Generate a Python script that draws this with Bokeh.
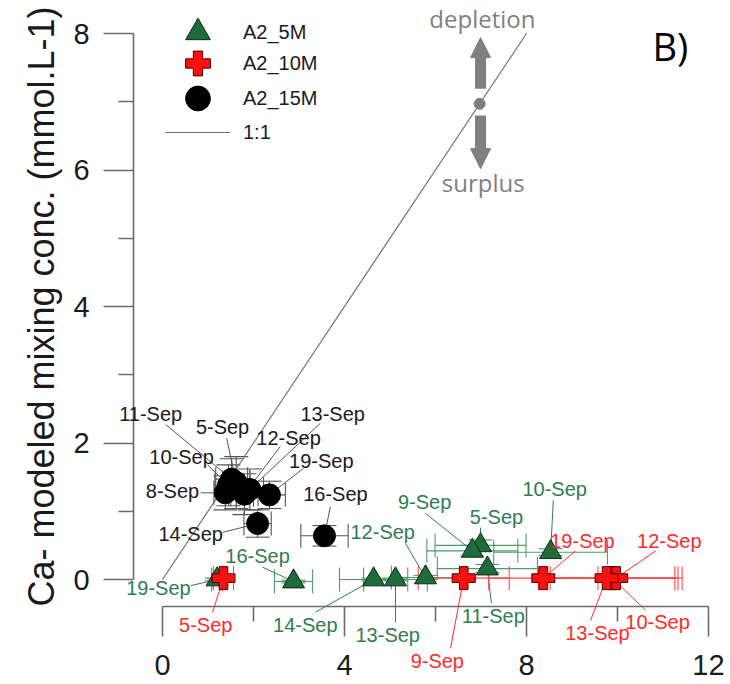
from bokeh.plotting import figure
from bokeh.models import (Range1d, FixedTicker, LabelSet, ColumnDataSource, Whisker,
                          TeeHead, Arrow, NormalHead, Label, Legend, LegendItem)
from bokeh.embed import file_html
from bokeh.resources import INLINE
from bokeh.core.properties import value

# ---------------- data ----------------
# A2_5M (green triangles)
dates_5m = ["5-Sep", "9-Sep", "10-Sep", "11-Sep", "12-Sep", "13-Sep", "14-Sep", "16-Sep", "19-Sep"]
x_5m = [6.99, 6.81, 8.53, 7.14, 5.78, 5.12, 4.64, 2.88, 1.20]
y_5m = [0.50, 0.42, 0.40, 0.16, 0.03, 0.00, 0.00, -0.03, 0.00]
xerr_5m = [1.0, 1.0, 1.25, 1.1, 0.75, 0.7, 0.75, 0.42, 0.12]
yerr_5m = [0.08, 0.08, 0.05, 0.06, 0.03, 0.02, 0.02, 0.02, 0.02]
lab_x_5m = [7.34, 5.76, 8.62, 7.27, 4.84, 4.95, 3.14, 2.09, -0.09]
lab_y_5m = [0.92, 1.14, 1.33, -0.54, 0.70, -0.82, -0.67, 0.35, -0.12]
lead_x_5m = [6.99, 5.78, 8.59, 7.23, 5.34, 5.12, 3.36, 2.20, 0.62]
lead_y_5m = [0.76, 0.97, 1.16, -0.35, 0.53, -0.63, -0.48, 0.18, -0.09]

# A2_10M (red plus)
dates_10m = ["5-Sep", "9-Sep", "10-Sep", "12-Sep", "13-Sep", "19-Sep"]
x_10m = [1.34, 6.62, 9.88, 9.97, 9.76, 8.37]
y_10m = [0.02, 0.02, 0.02, 0.02, 0.02, 0.02]
xerr_10m = [0.22, 1.0, 1.45, 1.45, 1.5, 1.2]
yerr_10m = [0.05, 0.05, 0.05, 0.05, 0.05, 0.05]
lab_x_10m = [0.95, 6.04, 10.88, 11.14, 9.56, 9.23]
lab_y_10m = [-0.66, -1.19, -0.63, 0.57, -0.78, 0.57]
lead_x_10m = [1.10, 6.33, 10.62, 10.84, 9.41, 9.08]
lead_y_10m = [-0.48, -1.01, -0.45, 0.42, -0.60, 0.42]

# A2_15M (black circles)
dates_15m = ["5-Sep", "8-Sep", "10-Sep", "11-Sep", "12-Sep", "13-Sep", "14-Sep", "16-Sep", "19-Sep"]
x_15m = [1.62, 1.38, 1.45, 1.52, 1.80, 1.92, 2.09, 3.56, 2.35]
y_15m = [1.42, 1.27, 1.38, 1.47, 1.25, 1.32, 0.82, 0.64, 1.24]
xerr_15m = [0.3, 0.25, 0.3, 0.35, 0.3, 0.3, 0.3, 0.52, 0.35]
yerr_15m = [0.38, 0.25, 0.3, 0.3, 0.3, 0.3, 0.2, 0.15, 0.2]
lab_x_15m = [1.32, 0.22, 0.42, -0.26, 2.77, 3.74, 0.62, 3.80, 3.49]
lab_y_15m = [2.23, 1.29, 1.79, 2.43, 2.08, 2.43, 0.66, 1.25, 1.73]
lead_x_15m = [1.41, 0.84, 0.99, 0.07, 2.59, 3.47, 1.32, 3.69, 3.10]
lead_y_15m = [2.07, 1.27, 1.68, 2.27, 1.95, 2.29, 0.69, 1.07, 1.63]

# 1:1 line
one_to_one = [0, 8]

# axis ticks
x_ticks = [0, 4, 8, 12]
x_minor = [2, 6, 10]
y_ticks = [0, 2, 4, 6, 8]
y_minor = [1, 3, 5, 7]

# offset axis positions (data coords, Sigmaplot style detached axes)
yaxis_at_x = -0.637
xaxis_at_y = -0.396

# depletion / surplus sketch (data coords)
sketch_x = 6.99
sketch_dot = 6.97
up_from, up_to = 7.19, 7.94
down_from, down_to = 6.80, 6.02

GREEN_FILL = "#1f6b3a"
GREEN_TXT = "#2f7d4f"
GREEN_BAR = "#4f9a6a"
RED_FILL = "#ff1010"
RED_TXT = "#ff2a2a"
RED_BAR = "#ff4a4a"
GRAY = "#7f7f7f"
AXIS = "#6a6a6a"
FONT = "Liberation Sans"

W, H = 730, 684
p = figure(width=W, height=H, output_backend="svg", toolbar_location=None,
           x_range=Range1d(-162 / 45.5, (W - 162) / 45.5),
           y_range=Range1d(-(H - 579) / 68.25, 579 / 68.25),
           min_border_left=0, min_border_right=0, min_border_top=0, min_border_bottom=0)
p.title.visible = False
p.outline_line_color = None
p.xgrid.visible = False
p.ygrid.visible = False
p.background_fill_color = "white"
p.border_fill_color = "white"

for ax, ticks, minor, bnds in ((p.xaxis, x_ticks, x_minor, (0, 12)), (p.yaxis, y_ticks, y_minor, (0, 8))):
    ax.ticker = FixedTicker(ticks=ticks, minor_ticks=minor)
    ax.bounds = bnds
    ax.axis_line_color = AXIS
    ax.axis_line_width = 1.6
    ax.major_tick_line_color = AXIS
    ax.major_tick_line_width = 1.6
    ax.minor_tick_line_color = AXIS
    ax.minor_tick_line_width = 1.6
    ax.major_tick_out = 30
    ax.major_tick_in = 0
    ax.minor_tick_out = 15
    ax.minor_tick_in = 0
    ax.major_label_text_font = FONT
    ax.major_label_text_font_size = "29px"
    ax.major_label_text_color = "#1a1a1a"

p.yaxis.fixed_location = yaxis_at_x
p.xaxis.fixed_location = xaxis_at_y
p.xaxis.major_label_standoff = 18
p.yaxis.major_label_standoff = 14
p.yaxis.axis_label = "Ca- modeled mixing conc. (mmol.L-1)"
p.yaxis.axis_label_text_font = FONT
p.yaxis.axis_label_text_font_size = "36px"
p.yaxis.axis_label_text_font_style = "normal"
p.yaxis.axis_label_text_color = "#1a1a1a"
p.yaxis.axis_label_standoff = 8

# 1:1 line
r_line = p.line(one_to_one, one_to_one, line_color="#707070", line_width=1.2)


def make_src(x, y, xe, ye, lx, ly, sx, sy, lab):
    return ColumnDataSource(dict(
        x=x, y=y,
        xl=[a - e for a, e in zip(x, xe)], xu=[a + e for a, e in zip(x, xe)],
        yl=[a - e for a, e in zip(y, ye)], yu=[a + e for a, e in zip(y, ye)],
        lx=lx, ly=ly, sx=sx, sy=sy, label=lab))


series = [
    (make_src(x_5m, y_5m, xerr_5m, yerr_5m, lab_x_5m, lab_y_5m, lead_x_5m, lead_y_5m, dates_5m),
     GREEN_BAR, GREEN_TXT, GREEN_TXT),
    (make_src(x_10m, y_10m, xerr_10m, yerr_10m, lab_x_10m, lab_y_10m, lead_x_10m, lead_y_10m, dates_10m),
     RED_BAR, RED_TXT, RED_TXT),
    (make_src(x_15m, y_15m, xerr_15m, yerr_15m, lab_x_15m, lab_y_15m, lead_x_15m, lead_y_15m, dates_15m),
     "#555555", "#1a1a1a", "#555555"),
]

for src, bar_col, txt_col, lead_col in series:
    p.add_layout(Whisker(base="y", lower="xl", upper="xu", dimension="width", source=src,
                         line_color=bar_col, line_width=1.1, level="underlay",
                         upper_head=TeeHead(size=24, line_color=bar_col, line_width=1.1),
                         lower_head=TeeHead(size=24, line_color=bar_col, line_width=1.1)))
    p.add_layout(Whisker(base="x", lower="yl", upper="yu", dimension="height", source=src,
                         line_color=bar_col, line_width=1.1, level="underlay",
                         upper_head=TeeHead(size=24, line_color=bar_col, line_width=1.1),
                         lower_head=TeeHead(size=24, line_color=bar_col, line_width=1.1)))
    p.add_layout(Arrow(x_start="sx", y_start="sy", x_end="x", y_end="y", source=src, end=None,
                       line_color=lead_col, line_width=1, level="underlay"))
    p.add_layout(LabelSet(x="lx", y="ly", text="label", source=src, text_align="center",
                          text_baseline="middle", text_font=value(FONT), text_font_size="20px",
                          text_color=txt_col))

r5 = p.scatter("x", "y", source=series[0][0], marker="triangle", size=22,
               fill_color=GREEN_FILL, line_color="#0a2a14", line_width=1)
r10 = p.scatter("x", "y", source=series[1][0], marker="plus", size=23,
                fill_color=RED_FILL, line_color="#4a0000", line_width=1)
r15 = p.scatter("x", "y", source=series[2][0], marker="circle", size=22,
                fill_color="black", line_color="black")

# depletion / surplus sketch
p.add_layout(Arrow(x_start=sketch_x, y_start=up_from, x_end=sketch_x, y_end=up_to,
                   line_color=GRAY, line_width=11,
                   end=NormalHead(size=20, fill_color=GRAY, line_color=GRAY)))
p.add_layout(Arrow(x_start=sketch_x, y_start=down_from, x_end=sketch_x, y_end=down_to,
                   line_color=GRAY, line_width=11,
                   end=NormalHead(size=20, fill_color=GRAY, line_color=GRAY)))
p.scatter([sketch_dot], [sketch_dot], size=11, fill_color=GRAY, line_color=GRAY)
p.add_layout(Label(x=7.03, y=8.22, text="depletion", text_align="center", text_baseline="middle",
                   text_font="Open Sans", text_font_size="24px", text_color=GRAY))
p.add_layout(Label(x=7.05, y=5.82, text="surplus", text_align="center", text_baseline="middle",
                   text_font="Open Sans", text_font_size="24px", text_color=GRAY))
p.add_layout(Label(x=11.16, y=7.82, text="B)", text_align="center", text_baseline="middle",
                   text_font="Open Sans", text_font_size="38px", text_color="black"))

# legend: one single-row legend per entry so that big legend markers keep the tight row pitch
legend_entries = [("A2_5M", r5, 621), ("A2_10M", r10, 590), ("A2_15M", r15, 555), ("1:1", r_line, 521)]
for lab, rend, vy in legend_entries:
    p.add_layout(Legend(items=[LegendItem(label=lab, renderers=[rend])],
                        location=(165, vy), glyph_width=65, glyph_height=62, spacing=0,
                        label_standoff=13, padding=0, margin=0, border_line_alpha=0,
                        background_fill_alpha=0, label_text_font=FONT, label_text_font_size="20px",
                        label_text_color="#1a1a1a"))

open("out.html", "w").write(file_html(p, INLINE))
